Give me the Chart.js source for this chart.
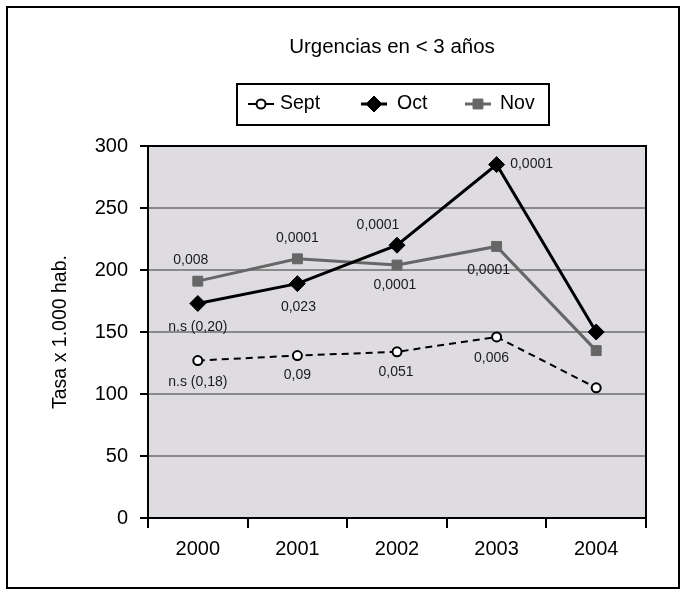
<!DOCTYPE html>
<html>
<head>
<meta charset="utf-8">
<script src="https://cdn.jsdelivr.net/npm/chart.js@4/dist/chart.umd.min.js"></script>
<style>
  body { margin: 0; background: #fff; }
  canvas { display: block; }
</style>
</head>
<body>
<canvas id="chartUrgencias" width="686" height="594"></canvas>
<script>
// datos
const years = ["2000", "2001", "2002", "2003", "2004"];
const seriesNames = ["Sept", "Oct", "Nov"];
const sept = [127, 131, 134, 146, 105];
const oct = [173, 189, 220, 285, 150];
const nov = [191, 209, 204, 219, 135];
// p-valores escritos junto a los puntos
const sigSept = ["n.s (0,18)", "0,09", "0,051", "0,006", ""];
const sigOct = ["n.s (0,20)", "0,023", "0,0001", "0,0001", ""];
const sigNov = ["0,008", "0,0001", "0,0001", "0,0001", ""];
const yTicks = [0, 50, 100, 150, 200, 250, 300];

const FONT = "'Liberation Sans', Arial, sans-serif";

// desplazamiento de cada etiqueta respecto a su punto (px)
const labelOffsets = [
  [[0, 22], [0, 20], [-1, 20], [-5, 21], [0, 0]],
  [[0, 24], [1, 24], [-19, -20], [35, 0], [0, 0]],
  [[-7, -21], [0, -21], [-2, 20], [-8, 24], [0, 0]],
];

const frame = {
  id: "frame",
  beforeDraw(chart) {
    const ctx = chart.ctx;
    const a = chart.chartArea;
    ctx.save();
    ctx.fillStyle = "#dedce0";
    ctx.fillRect(a.left, a.top, a.right - a.left, a.bottom - a.top);
    ctx.restore();
  },
  beforeDatasetsDraw(chart) {
    const ctx = chart.ctx;
    const a = chart.chartArea;
    ctx.save();
    ctx.strokeStyle = "#000";
    ctx.lineWidth = 2;
    ctx.beginPath();
    ctx.moveTo(a.left - 8, a.top);
    ctx.lineTo(a.right, a.top);
    ctx.lineTo(a.right, a.bottom);
    ctx.stroke();
    ctx.restore();
  },
  afterDatasetsDraw(chart) {
    const ctx = chart.ctx;
    const sigs = [sigSept, sigOct, sigNov];
    ctx.save();
    ctx.font = "14px " + FONT;
    ctx.fillStyle = "#1a1a1a";
    ctx.textAlign = "center";
    ctx.textBaseline = "middle";
    sigs.forEach((labels, i) => {
      const meta = chart.getDatasetMeta(i);
      labels.forEach((txt, j) => {
        if (!txt) return;
        const pt = meta.data[j];
        const off = labelOffsets[i][j];
        ctx.fillText(txt, pt.x + off[0], pt.y + off[1]);
      });
    });
    ctx.restore();
  },
  afterDraw(chart) {
    const ctx = chart.ctx;
    ctx.save();
    // marco exterior
    ctx.strokeStyle = "#000";
    ctx.lineWidth = 2;
    ctx.strokeRect(7, 7, 672, 581);
    // titulo
    ctx.fillStyle = "#000";
    ctx.font = "20.5px " + FONT;
    ctx.textAlign = "center";
    ctx.textBaseline = "middle";
    ctx.fillText("Urgencias en < 3 años", 392, 47);
    // leyenda
    ctx.fillStyle = "#fff";
    ctx.fillRect(237, 84, 312, 41);
    ctx.strokeRect(237, 84, 312, 41);
    const ly = 104;
    const items = [
      { x: 248, text: 280 },
      { x: 361, text: 397 },
      { x: 465, text: 500 },
    ];
    chart.data.datasets.forEach((ds, i) => {
      const it = items[i];
      ctx.save();
      ctx.strokeStyle = ds.borderColor;
      ctx.lineWidth = ds.borderWidth;
      ctx.beginPath();
      ctx.moveTo(it.x, ly);
      ctx.lineTo(it.x + 26, ly);
      ctx.stroke();
      ctx.fillStyle = ds.pointBackgroundColor;
      ctx.strokeStyle = ds.pointBorderColor;
      ctx.lineWidth = ds.pointBorderWidth;
      Chart.helpers.drawPoint(ctx, {
        pointStyle: ds.pointStyle,
        radius: ds.pointRadius,
        borderWidth: ds.pointBorderWidth,
        rotation: 0,
      }, it.x + 13, ly);
      ctx.restore();
      ctx.fillStyle = "#000";
      ctx.font = "19.5px " + FONT;
      ctx.textAlign = "left";
      ctx.fillText(seriesNames[i], it.text, ly);
    });
    ctx.restore();
  },
};

const ctx = document.getElementById("chartUrgencias").getContext("2d");
const chartUrgencias = new Chart(ctx, {
  type: "line",
  data: {
    labels: years,
    datasets: [
      {
        label: seriesNames[0],
        data: sept,
        borderColor: "#000",
        borderWidth: 2,
        borderDash: [7, 5],
        pointStyle: "circle",
        pointRadius: 4.5,
        pointBackgroundColor: "#fff",
        pointBorderColor: "#000",
        pointBorderWidth: 2,
      },
      {
        label: seriesNames[1],
        data: oct,
        borderColor: "#000",
        borderWidth: 3,
        pointStyle: "rectRot",
        pointRadius: 8,
        pointBackgroundColor: "#000",
        pointBorderColor: "#000",
        pointBorderWidth: 1,
      },
      {
        label: seriesNames[2],
        data: nov,
        borderColor: "#666",
        borderWidth: 3,
        pointStyle: "rect",
        pointRadius: 7,
        pointBackgroundColor: "#666",
        pointBorderColor: "#666",
        pointBorderWidth: 1,
      },
    ],
  },
  options: {
    responsive: false,
    animation: false,
    layout: { padding: { left: 43, top: 146, right: 40, bottom: 26 } },
    plugins: {
      legend: { display: false },
      title: { display: false },
      tooltip: { enabled: false },
    },
    scales: {
      x: {
        type: "category",
        offset: true,
        grid: {
          offset: true,
          drawOnChartArea: false,
          drawTicks: true,
          tickLength: 10,
          color: "#000",
          lineWidth: 2,
        },
        border: { color: "#000", width: 2 },
        ticks: { color: "#000", font: { family: FONT, size: 20 }, padding: 9 },
        afterFit(scale) { scale.height = 50; },
      },
      y: {
        min: 0,
        max: 300,
        afterBuildTicks(scale) { scale.ticks = yTicks.map(v => ({ value: v })); },
        grid: {
          color: "#8a8a8a",
          lineWidth: 2,
          tickColor: "#000",
          tickLength: 8,
        },
        border: { color: "#000", width: 2 },
        ticks: { color: "#000", font: { family: FONT, size: 20 }, padding: 12 },
        title: {
          display: true,
          text: "Tasa x 1.000 hab.",
          color: "#000",
          font: { family: FONT, size: 19.5 },
          padding: { top: 6, bottom: 0 },
        },
        afterFit(scale) { scale.width = 105; },
      },
    },
  },
  plugins: [frame],
});
</script>
</body>
</html>
